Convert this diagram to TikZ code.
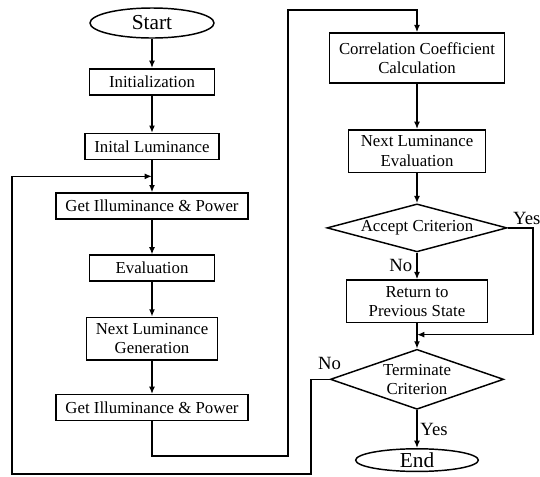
\documentclass[tikz,border=0pt]{standalone}
\usepackage{fontspec}
\setmainfont{Liberation Serif}
\usepackage{tikz}
\usetikzlibrary{shapes.geometric,arrows.meta,positioning,calc}

\newcommand{\boxfont}{\fontsize{12.6}{14.5}\selectfont}

\begin{document}
\begin{tikzpicture}[
    node distance=26pt,
    box/.style={rectangle, draw, line width=1.1pt, align=center, minimum width=94pt, minimum height=19.5pt, inner xsep=7pt, inner ysep=4.5pt, font=\boxfont},
    dec/.style={diamond, draw, line width=1.1pt, align=center, inner sep=0pt, font=\boxfont},
    term/.style={ellipse, draw, line width=1.1pt, inner sep=0pt, minimum width=93pt, font=\fontsize{16}{18}\selectfont},
    lbl/.style={font=\fontsize{14}{16}\selectfont, inner sep=2pt},
    arrow/.style={-{Latex[length=5.5pt,width=4.5pt]}, line width=1.1pt}
]
    \useasboundingbox[fill=white] (0,0) rectangle (405pt,-357pt);

    % left column
    \node[term, minimum height=22.5pt] (start) at (114pt,-17.25pt) {Start};
    \node[box, below=22pt of start] (init) {Initialization};
    \node[box, below=28pt of init] (initlum) {Inital Luminance};
    \node[box, below=24pt of initlum] (gip1) {Get Illuminance \& Power};
    \node[box, below=26pt of gip1] (eval) {Evaluation};
    \node[box, below=26pt of eval] (nlg) {Next Luminance\\Generation};
    \node[box, below=25pt of nlg] (gip2) {Get Illuminance \& Power};

    % right column
    \node[box, minimum height=37.5pt] (corr) at (312.75pt,-43.5pt) {Correlation Coefficient\\Calculation};
    \node[box, minimum width=103pt, below=34pt of corr] (nle) {Next Luminance\\Evaluation};
    \node[dec, minimum width=135pt, minimum height=36pt, aspect=3.75, below=22.5pt of nle] (accept) {Accept Criterion};
    \node[box, minimum width=106pt, below=20pt of accept] (ret) {Return to\\Previous State};
    \node[dec, minimum width=130pt, minimum height=45pt, aspect=2.9, below=19pt of ret] (stop) {Terminate\\Criterion};
    \node[term, minimum width=92pt, minimum height=17pt, below=28.5pt of stop] (end) {End};

    % turning points
    \coordinate (m1) at ($(initlum.south)!0.5!(gip1.north)$);
    \coordinate (m2) at ($(ret.south)!0.45!(stop.north)$);
    \coordinate (topleft) at (216pt,-7.5pt);
    \coordinate (lowleft) at (9pt,-355.5pt);

    \draw[arrow] (start) -- (init);
    \draw[arrow] (init) -- (initlum);
    \draw[arrow] (initlum) -- (gip1);
    \draw[arrow] (gip1) -- (eval);
    \draw[arrow] (eval) -- (nlg);
    \draw[arrow] (nlg) -- (gip2);
    \draw[arrow] (gip2.south) -- ++(0,-26pt) -| (topleft) -| (corr.north);

    \draw[arrow] (corr) -- (nle);
    \draw[arrow] (nle) -- (accept);
    \draw[arrow] (accept.south) -- node[lbl, left, xshift=-1pt] (no1) {No} (ret.north);
    \draw[arrow] (accept.east) -- node[lbl, above, pos=0.75] (yes1) {Yes} ++(19pt,0) |- (m2);
    \draw[arrow] (ret.south) -- (stop.north);
    \draw[arrow] (stop.south) -- node[lbl, right] (yes2) {Yes} (end.north);
    \draw[arrow] (stop.west) node[lbl, above, yshift=5pt] (no2) {No} -- ++(-14pt,0) |- (lowleft) |- (m1);
\end{tikzpicture}
\end{document}
